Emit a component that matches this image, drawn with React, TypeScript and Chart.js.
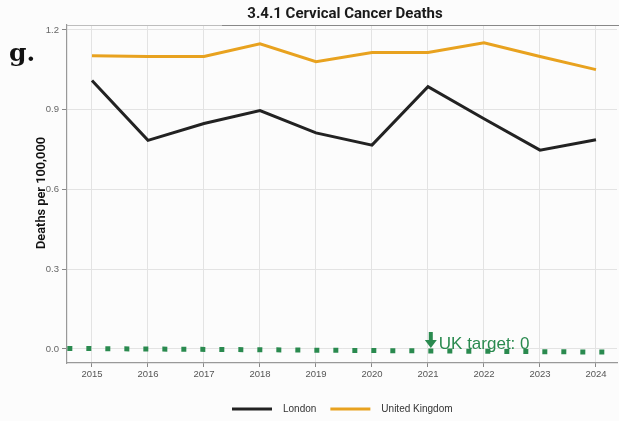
import React, { useEffect, useRef } from 'react';
import { Chart, registerables } from 'chart.js';

Chart.register(...registerables);

const years = [2015, 2016, 2017, 2018, 2019, 2020, 2021, 2022, 2023, 2024];
const londonValues = [1.01, 0.785, 0.848, 0.897, 0.813, 0.767, 0.987, 0.866, 0.748, 0.787];
const ukValues = [1.103, 1.1, 1.1, 1.148, 1.081, 1.115, 1.115, 1.152, 1.1, 1.051];
const targetXs = [2014.56, 2024.4];
const targetValues = [0.002, -0.012];
const yTickValues = [0, 0.3, 0.6, 0.9, 1.2];
const xTickValues = years;

const TITLE = '3.4.1 Cervical Cancer Deaths';
const Y_TITLE = 'Deaths per 100,000';
const TARGET_LABEL = 'UK target: 0';
const LEGEND = [
  { label: 'London', color: '#222222' },
  { label: 'United Kingdom', color: '#e8a21f' },
];

const GREEN = '#2a8a4f';

const decorPlugin = {
  id: 'decor',
  afterDraw(chart: any) {
    const { ctx, chartArea } = chart;
    const xs = chart.scales.x;
    const ys = chart.scales.y;
    ctx.save();
    // top panel border
    ctx.strokeStyle = '#bdbdbd';
    ctx.lineWidth = 1;
    ctx.beginPath();
    ctx.moveTo(chartArea.left, chartArea.top + 0.5);
    ctx.lineTo(chartArea.right, chartArea.top + 0.5);
    ctx.stroke();
    ctx.strokeStyle = '#888888';
    ctx.beginPath();
    ctx.moveTo(222, chartArea.top + 0.5);
    ctx.lineTo(619, chartArea.top + 0.5);
    ctx.stroke();

    // title
    ctx.fillStyle = '#1a1a1a';
    ctx.font = 'bold 15px Roboto';
    ctx.textAlign = 'center';
    ctx.textBaseline = 'middle';
    ctx.fillText(TITLE, 345, 14);

    // g.
    ctx.font = 'bold 25px "DejaVu Serif"';
    ctx.textAlign = 'left';
    ctx.textBaseline = 'alphabetic';
    ctx.fillStyle = '#111';
    ctx.fillText('g.', 9, 61);

    // y title
    ctx.save();
    ctx.translate(42, 193);
    ctx.rotate(-Math.PI / 2);
    ctx.font = '600 12.8px Roboto';
    ctx.textAlign = 'center';
    ctx.textBaseline = 'middle';
    ctx.fillStyle = '#111';
    ctx.fillText(Y_TITLE, 0, 0);
    ctx.restore();

    // target annotation
    const ax = xs.getPixelForValue(2021.05);
    const ay = ys.getPixelForValue(0);
    ctx.fillStyle = GREEN;
    ctx.fillRect(ax - 2, ay - 17, 4, 10);
    ctx.beginPath();
    ctx.moveTo(ax - 6, ay - 9);
    ctx.lineTo(ax + 6, ay - 9);
    ctx.lineTo(ax, ay - 1);
    ctx.closePath();
    ctx.fill();
    ctx.font = '17px "Liberation Sans"';
    ctx.textAlign = 'left';
    ctx.textBaseline = 'alphabetic';
    ctx.fillText(TARGET_LABEL, ax + 8, ay);

    // legend
    let lx = 232;
    const ly = 409;
    ctx.font = '10px "Liberation Sans"';
    ctx.textBaseline = 'middle';
    LEGEND.forEach((item) => {
      ctx.strokeStyle = item.color;
      ctx.lineWidth = 3;
      ctx.beginPath();
      ctx.moveTo(lx, ly);
      ctx.lineTo(lx + 40, ly);
      ctx.stroke();
      ctx.fillStyle = '#333';
      ctx.fillText(item.label, lx + 51, ly);
      lx += 51 + ctx.measureText(item.label).width + 14;
    });
    ctx.restore();
  },
};

export default function App() {
  const ref = useRef<HTMLCanvasElement>(null);
  useEffect(() => {
    if (!ref.current) return;
    const chart = new Chart(ref.current, {
      type: 'line',
      data: {
        datasets: [
          {
            label: 'UK target',
            data: targetXs.map((x, i) => ({ x, y: targetValues[i] })),
            borderColor: GREEN,
            borderWidth: 5,
            borderDash: [5, 14],
            borderCapStyle: 'butt',
            pointRadius: 0,
            fill: false,
          },
          {
            label: 'London',
            data: years.map((x, i) => ({ x, y: londonValues[i] })),
            borderColor: LEGEND[0].color,
            borderWidth: 3,
            pointRadius: 0,
            tension: 0,
            fill: false,
          },
          {
            label: 'United Kingdom',
            data: years.map((x, i) => ({ x, y: ukValues[i] })),
            borderColor: LEGEND[1].color,
            borderWidth: 3,
            pointRadius: 0,
            tension: 0,
            fill: false,
          },
        ],
      },
      options: {
        animation: false,
        responsive: false,
        maintainAspectRatio: false,
        layout: { padding: { top: 25, left: 0, right: 2, bottom: 0 } },
        plugins: { legend: { display: false }, title: { display: false }, tooltip: { enabled: false } },
        scales: {
          x: {
            type: 'linear',
            min: 2014.554,
            max: 2024.375,
            afterBuildTicks: (s: any) => {
              s.ticks = xTickValues.map((v) => ({ value: v }));
            },
            afterFit: (s: any) => {
              s.height = 58;
            },
            ticks: {
              callback: (v: any) => String(v),
              color: '#555',
              font: { size: 9.5, family: '"Liberation Sans"' },
              padding: 2,
              maxRotation: 0,
              autoSkip: false,
            },
            grid: { color: '#e3e3e3', lineWidth: 1, tickLength: 4, tickColor: '#888' },
            border: { color: '#999', width: 1.2 },
          },
          y: {
            type: 'linear',
            min: -0.0527,
            max: 1.2188,
            afterBuildTicks: (s: any) => {
              s.ticks = yTickValues.map((v) => ({ value: v }));
            },
            afterFit: (s: any) => {
              s.width = 67;
            },
            ticks: {
              callback: (v: any) => Number(v).toFixed(1),
              color: '#666',
              font: { size: 9.5, family: '"Liberation Sans"' },
              padding: 3,
            },
            grid: { color: '#e3e3e3', lineWidth: 1, tickLength: 5, tickColor: '#888' },
            border: { color: '#999', width: 1.2 },
          },
        },
      },
      plugins: [decorPlugin],
    } as any);
    return () => chart.destroy();
  }, []);
  return (
    <div style={{ position: 'fixed', left: 0, top: 0, width: 619, height: 421, background: '#fcfcfc' }}>
      <canvas ref={ref} width={619} height={421} style={{ width: 619, height: 421, display: 'block' }} />
    </div>
  );
}
